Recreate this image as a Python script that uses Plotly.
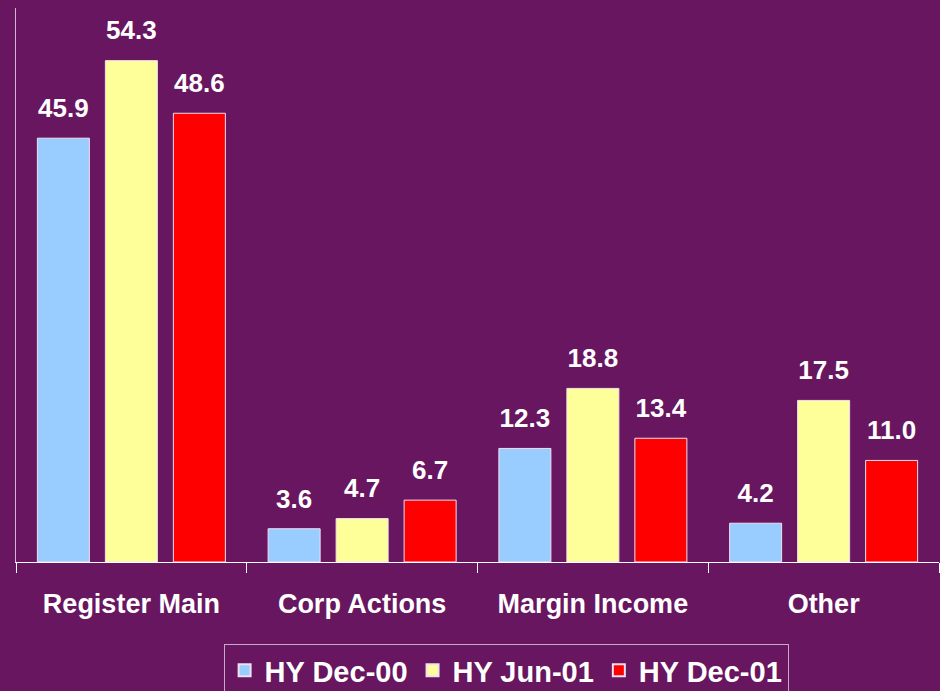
import plotly.graph_objects as go

categories = ["Register Main", "Corp Actions", "Margin Income", "Other"]
series_names = ["HY Dec-00", "HY Jun-01", "HY Dec-01"]
hy_dec00 = [45.9, 3.6, 12.3, 4.2]
hy_jun01 = [54.3, 4.7, 18.8, 17.5]
hy_dec01 = [48.6, 6.7, 13.4, 11.0]
colors = ["#99CCFF", "#FFFF99", "#FF0000"]

BG = "#67165F"
FONT = "Liberation Sans, Arial, sans-serif"

fig = go.Figure()
for name, vals, col in zip(series_names, [hy_dec00, hy_jun01, hy_dec01], colors):
    fig.add_trace(go.Bar(
        x=categories, y=vals, name=name,
        marker=dict(color=col, line=dict(color="#F0E0F0", width=1)),
    ))
for name, vals in zip(series_names, [hy_dec00, hy_jun01, hy_dec01]):
    fig.add_trace(go.Scatter(
        x=categories, y=vals, name=name + " labels", showlegend=False,
        mode="markers+text", marker=dict(size=22, opacity=0),
        text=[f"{v:.1f}" for v in vals], textposition="top center",
        textfont=dict(family=FONT, size=26, color="white", weight="bold"),
        cliponaxis=False, hoverinfo="skip",
    ))

fig.update_layout(
    width=940, height=691,
    paper_bgcolor=BG, plot_bgcolor=BG,
    margin=dict(l=16, r=1, t=8, b=129, autoexpand=False),
    barmode="group", bargap=0.116, bargroupgap=0.235,
    scattermode="group", scattergap=0.116,
    font=dict(family=FONT, color="white"),
    showlegend=True,
    legend=dict(
        orientation="h", x=0.531, xanchor="center", y=-0.148, yanchor="top",
        font=dict(family=FONT, size=29, color="white", weight="bold"),
        bordercolor="#C8A8C8", borderwidth=1, bgcolor=BG,
        itemsizing="constant", tracegroupgap=0, itemwidth=30,
    ),
)
fig.update_xaxes(
    showline=True, linecolor="white", linewidth=1,
    ticks="outside", tickson="boundaries", ticklen=10, tickcolor="white",
    tickfont=dict(family=FONT, size=27, color="white", weight="bold"),
    ticklabelstandoff=18,
    showgrid=False,
)
fig.update_yaxes(
    range=[0, 60], showline=True, linecolor="#D0B8D0", linewidth=1,
    showticklabels=False, ticks="", showgrid=False, zeroline=False,
)

fig.write_html("out.html", config={"displayModeBar": False},
               post_script="document.body.style.margin='0';document.body.style.background='%s';" % BG)
